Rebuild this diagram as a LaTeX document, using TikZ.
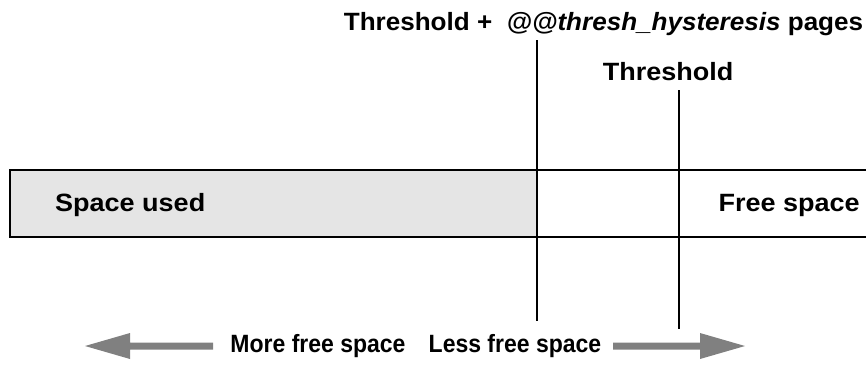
\documentclass[tikz,border=0pt]{standalone}
\usepackage{fontspec}
\setmainfont{Liberation Sans}
\begin{document}
\begin{tikzpicture}[x=1pt,y=-1pt,
  lbl/.style={font=\fontsize{25}{29}\selectfont\bfseries, inner sep=0pt, xscale=1.08},
  blbl/.style={font=\fontsize{25}{29}\selectfont\bfseries, inner sep=0pt, xscale=0.92},
  rule/.style={line width=2pt}]
\useasboundingbox (0,0) rectangle (866,384);
\fill[gray!20] (10,170) rectangle (537,237);
\draw[line width=2.5pt] (866,170) -- (10,170) -- (10,237) -- (866,237);
\node[lbl, xscale=0.965] (top) at (603.5,24) {Threshold +\ \ \textit{@@thresh\_hysteresis} pages};
\node[lbl] (thr) at (668,72) {Threshold};
\coordinate (a1) at (537,40); \coordinate (a2) at (537,321);
\coordinate (b1) at (679,90); \coordinate (b2) at (679,329);
\draw[rule] (a1) -- (a2);
\draw[rule] (b1) -- (b2);
\node[lbl, anchor=west] (used) at (55,205) {Space used};
\node[lbl, anchor=east] (free) at (860,205) {Free space};
\node[blbl] (more) at (318,346) {More free space};
\node[blbl] (less) at (515,346) {Less free space};
\fill[gray] (85,346) -- (130,333) -- (130,342.5) -- (213,342.5) -- (213,349.5) -- (130,349.5) -- (130,359) -- cycle;
\fill[gray] (745,346) -- (700,333) -- (700,342.5) -- (613,342.5) -- (613,349.5) -- (700,349.5) -- (700,359) -- cycle;
\end{tikzpicture}
\end{document}
